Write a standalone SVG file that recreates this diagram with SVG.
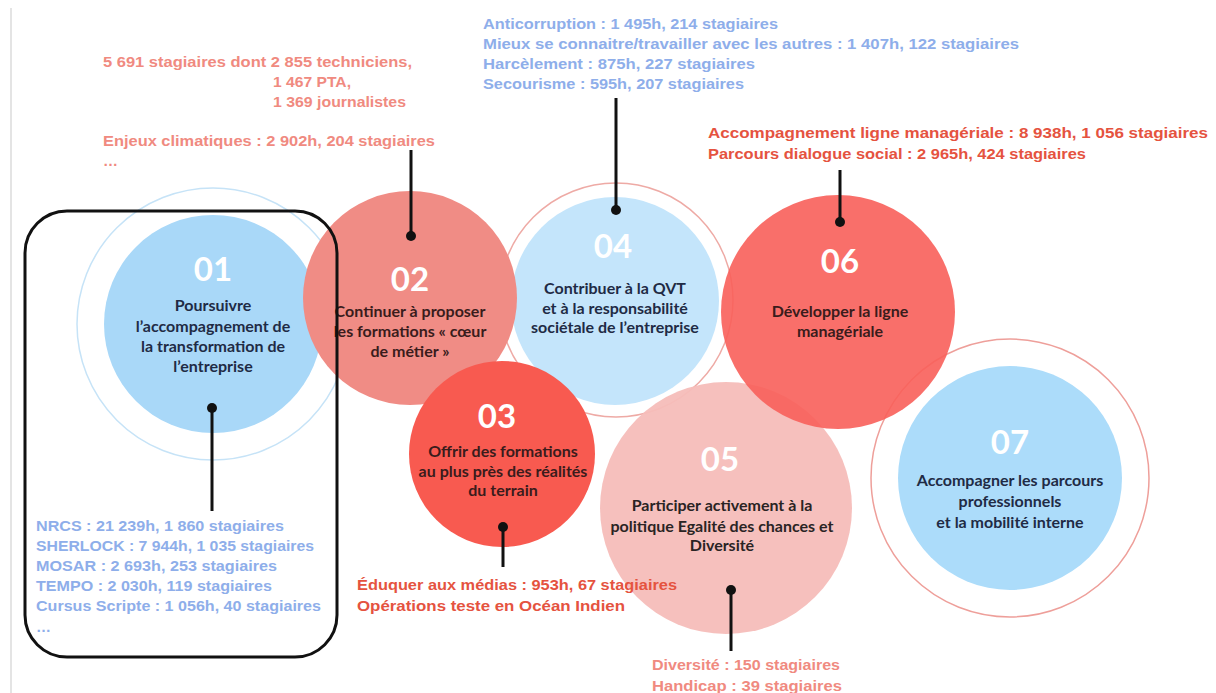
<svg xmlns="http://www.w3.org/2000/svg" width="1216" height="693" viewBox="0 0 1216 693">
<style>
.num{font-family:Lato,"Liberation Sans",sans-serif;font-weight:bold;font-size:33px;fill:#ffffff;text-anchor:middle}
.lbl{font-family:Lato,"Liberation Sans",sans-serif;font-weight:bold;font-size:16px;text-anchor:middle}
.navy{fill:#1f2b45}
.dark{fill:#3a1c1c}
.ann{font-family:"Liberation Sans",Arial,sans-serif;font-weight:bold;font-size:15px}
.blue{fill:#8eaeea}
.salmon{fill:#f08a80}
.red{fill:#e5533f}
.ring{fill:none;stroke-width:1.5}
.conn{stroke:#111111;stroke-width:3;fill:none}
.dot{fill:#111111}
</style>
<rect x="0" y="0" width="1216" height="693" fill="#ffffff"/>
<line x1="11" y1="8" x2="11" y2="693" stroke="#e4e4e4" stroke-width="2"/>

<g id="node01">
<circle class="ring" cx="213" cy="324" r="136" stroke="#c6e3f7"/>
<circle cx="213" cy="324" r="109" fill="#a9d8f8"/>
<text class="num" x="213" y="281">01</text>
<text class="lbl navy" x="213" y="311">Poursuivre</text>
<text class="lbl navy" x="213" y="332">l’accompagnement de</text>
<text class="lbl navy" x="213" y="352">la transformation de</text>
<text class="lbl navy" x="213" y="372">l’entreprise</text>
</g>

<g id="node04">
<circle class="ring" cx="616" cy="300" r="117" stroke="#eeaaa5"/>
<circle cx="615" cy="301" r="104" fill="#c4e5fb"/>
<text class="num" x="613" y="258">04</text>
<text class="lbl navy" x="615" y="294">Contribuer à la QVT</text>
<text class="lbl navy" x="615" y="314">et à la responsabilité</text>
<text class="lbl navy" x="615" y="333">sociétale de l’entreprise</text>
</g>

<g id="node02">
<circle cx="410" cy="298" r="107" fill="#f08c85"/>
<text class="num" x="410" y="291">02</text>
<text class="lbl dark" x="410" y="317">Continuer à proposer</text>
<text class="lbl dark" x="410" y="337">les formations « cœur</text>
<text class="lbl dark" x="410" y="357">de métier »</text>
</g>

<g id="node03">
<circle cx="502" cy="454" r="93" fill="#f85a50"/>
<text class="num" x="497" y="428">03</text>
<text class="lbl dark" x="503" y="457" font-size="14.5">Offrir des formations</text>
<text class="lbl dark" x="503" y="477" font-size="14.5">au plus près des réalités</text>
<text class="lbl dark" x="503" y="496" font-size="14.5">du terrain</text>
</g>

<g id="node05">
<circle cx="726" cy="508" r="126" fill="#f6bdb9" fill-opacity="0.95"/>
<text class="num" x="720" y="471">05</text>
<text class="lbl" x="722" y="511" fill="#2a2424">Participer activement à la</text>
<text class="lbl" x="722" y="532" fill="#2a2424">politique Egalité des chances et</text>
<text class="lbl" x="722" y="551" fill="#2a2424">Diversité</text>
</g>

<g id="node07">
<circle class="ring" cx="1010" cy="478" r="139" stroke="#ee9f9a"/>
<circle cx="1010" cy="478" r="112" fill="#acdcfa"/>
<text class="num" x="1010" y="454">07</text>
<text class="lbl navy" x="1010" y="486">Accompagner les parcours</text>
<text class="lbl navy" x="1010" y="507">professionnels</text>
<text class="lbl navy" x="1010" y="528">et la mobilité interne</text>
</g>

<g id="node06">
<circle cx="838" cy="312" r="117" fill="#f85f5a" fill-opacity="0.9"/>
<text class="num" x="840" y="273">06</text>
<text class="lbl dark" x="840" y="317">Développer la ligne</text>
<text class="lbl dark" x="840" y="337">managériale</text>
</g>

<g id="group-box">
<rect x="25" y="211" width="312" height="446" rx="42" ry="42" fill="none" stroke="#111111" stroke-width="3"/>
</g>

<g id="connectors">
<line class="conn" x1="212" y1="408" x2="212" y2="511"/>
<circle class="dot" cx="212" cy="408" r="5"/>
<line class="conn" x1="411" y1="150" x2="411" y2="236"/>
<circle class="dot" cx="411" cy="236" r="5"/>
<line class="conn" x1="616" y1="98" x2="616" y2="210"/>
<circle class="dot" cx="616" cy="210" r="5"/>
<line class="conn" x1="840" y1="170" x2="840" y2="222"/>
<circle class="dot" cx="840" cy="222" r="5"/>
<line class="conn" x1="503" y1="527" x2="503" y2="567"/>
<circle class="dot" cx="503" cy="527" r="5"/>
<line class="conn" x1="731" y1="590" x2="731" y2="651"/>
<circle class="dot" cx="731" cy="590" r="5"/>
</g>

<g id="notes02">
<text class="ann salmon" x="103" y="67" textLength="309" lengthAdjust="spacingAndGlyphs">5 691 stagiaires dont 2 855 techniciens,</text>
<text class="ann salmon" x="273" y="87" textLength="78" lengthAdjust="spacingAndGlyphs">1 467 PTA,</text>
<text class="ann salmon" x="273" y="107" textLength="133" lengthAdjust="spacingAndGlyphs">1 369 journalistes</text>
<text class="ann salmon" x="103" y="146" textLength="332" lengthAdjust="spacingAndGlyphs">Enjeux climatiques : 2 902h, 204 stagiaires</text>
<text class="ann salmon" x="103" y="166">…</text>
</g>

<g id="notes04">
<text class="ann blue" x="483" y="29" textLength="295" lengthAdjust="spacingAndGlyphs">Anticorruption : 1 495h, 214 stagiaires</text>
<text class="ann blue" x="483" y="49" textLength="536" lengthAdjust="spacingAndGlyphs">Mieux se connaitre/travailler avec les autres : 1 407h, 122 stagiaires</text>
<text class="ann blue" x="483" y="69" textLength="272" lengthAdjust="spacingAndGlyphs">Harcèlement : 875h, 227 stagiaires</text>
<text class="ann blue" x="483" y="89" textLength="261" lengthAdjust="spacingAndGlyphs">Secourisme : 595h, 207 stagiaires</text>
</g>

<g id="notes06">
<text class="ann red" x="708" y="138" textLength="500" lengthAdjust="spacingAndGlyphs">Accompagnement ligne managériale : 8 938h, 1 056 stagiaires</text>
<text class="ann red" x="708" y="159" textLength="378" lengthAdjust="spacingAndGlyphs">Parcours dialogue social : 2 965h, 424 stagiaires</text>
</g>

<g id="notes01">
<text class="ann blue" x="36" y="531" textLength="248" lengthAdjust="spacingAndGlyphs">NRCS : 21 239h, 1 860 stagiaires</text>
<text class="ann blue" x="36" y="551" textLength="278" lengthAdjust="spacingAndGlyphs">SHERLOCK : 7 944h, 1 035 stagiaires</text>
<text class="ann blue" x="36" y="571" textLength="241" lengthAdjust="spacingAndGlyphs">MOSAR : 2 693h, 253 stagiaires</text>
<text class="ann blue" x="36" y="591" textLength="236" lengthAdjust="spacingAndGlyphs">TEMPO : 2 030h, 119 stagiaires</text>
<text class="ann blue" x="36" y="611" textLength="285" lengthAdjust="spacingAndGlyphs">Cursus Scripte : 1 056h, 40 stagiaires</text>
<text class="ann blue" x="36" y="632">…</text>
</g>

<g id="notes03">
<text class="ann red" x="357" y="590" textLength="320" lengthAdjust="spacingAndGlyphs">Éduquer aux médias : 953h, 67 stagiaires</text>
<text class="ann red" x="357" y="611" textLength="268" lengthAdjust="spacingAndGlyphs">Opérations teste en Océan Indien</text>
</g>

<g id="notes05">
<text class="ann salmon" x="652" y="670" textLength="188" lengthAdjust="spacingAndGlyphs">Diversité : 150 stagiaires</text>
<text class="ann salmon" x="652" y="691" textLength="190" lengthAdjust="spacingAndGlyphs">Handicap : 39 stagiaires</text>
</g>
</svg>
